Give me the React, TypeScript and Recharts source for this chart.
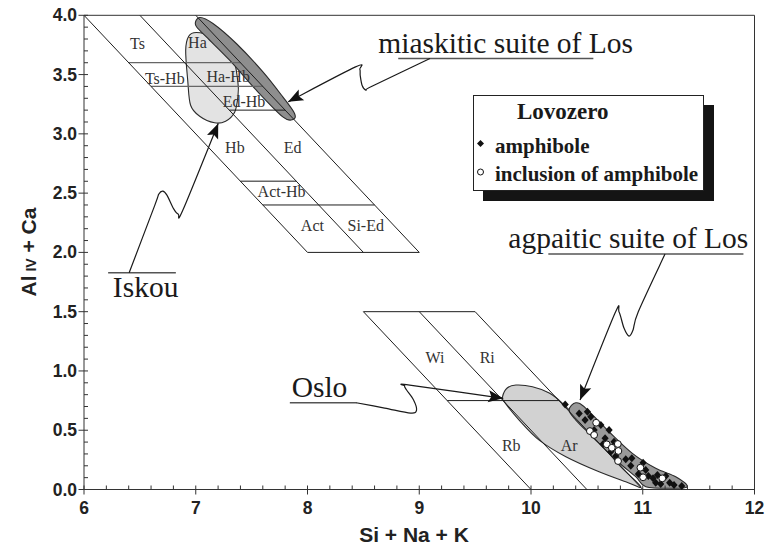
import React from "react";
import { ScatterChart, Scatter, XAxis, YAxis, Label } from "recharts";

type Pt = { x: number; y: number; label?: string };

// axis tick labels
const xMajor = [6, 7, 8, 9, 10, 11, 12];
const yMajor = [0, 0.5, 1, 1.5, 2, 2.5, 3, 3.5, 4];

// field boundaries of the classification diagram (pairs of end points)
const calcicBounds: Pt[] = [
  { x: 6, y: 4 }, { x: 8, y: 2 },
  { x: 6.5, y: 4 }, { x: 8.5, y: 2 },
  { x: 7, y: 4 }, { x: 9, y: 2 },
  { x: 8, y: 2 }, { x: 9, y: 2 },
  { x: 7.3, y: 3.2 }, { x: 7.8, y: 3.2 },
  { x: 7.6, y: 2.4 }, { x: 8.6, y: 2.4 },
];
const calcicGrey: Pt[] = [
  { x: 6.4, y: 3.6 }, { x: 7.4, y: 3.6 },
  { x: 6.6, y: 3.4 }, { x: 7.6, y: 3.4 },
  { x: 7.4, y: 2.6 }, { x: 7.9, y: 2.6 },
];
const sodicBounds: Pt[] = [
  { x: 8.5, y: 1.5 }, { x: 10, y: 0 },
  { x: 9, y: 1.5 }, { x: 10.5, y: 0 },
  { x: 9.5, y: 1.5 }, { x: 11, y: 0 },
  { x: 8.5, y: 1.5 }, { x: 9.5, y: 1.5 },
  { x: 9.25, y: 0.75 }, { x: 10.25, y: 0.75 },
];
const frame: Pt[] = [
  { x: 6, y: 4 }, { x: 12, y: 4 },
  { x: 12, y: 4 }, { x: 12, y: 0 },
];

const zoneLabels: Pt[] = [
  { x: 6.478, y: 3.76, label: "Ts" },
  { x: 7.015, y: 3.77, label: "Ha" },
  { x: 6.723, y: 3.47, label: "Ts-Hb" },
  { x: 7.29, y: 3.48, label: "Ha-Hb" },
  { x: 7.432, y: 3.27, label: "Ed-Hb" },
  { x: 7.35, y: 2.884, label: "Hb" },
  { x: 7.867, y: 2.884, label: "Ed" },
  { x: 7.768, y: 2.515, label: "Act-Hb" },
  { x: 8.044, y: 2.223, label: "Act" },
  { x: 8.521, y: 2.223, label: "Si-Ed" },
  { x: 9.14, y: 1.116, label: "Wi" },
  { x: 9.608, y: 1.116, label: "Ri" },
  { x: 9.823, y: 0.368, label: "Rb" },
  { x: 10.342, y: 0.368, label: "Ar" },
];

// outlined fields
const iskouField: Pt[] = [
  { x: 7.005, y: 3.855 }, { x: 7.124, y: 3.824 }, { x: 7.321, y: 3.664 },
  { x: 7.377, y: 3.438 }, { x: 7.377, y: 3.312 }, { x: 7.348, y: 3.183 },
  { x: 7.267, y: 3.107 }, { x: 7.169, y: 3.093 }, { x: 7.035, y: 3.149 },
  { x: 6.954, y: 3.241 }, { x: 6.928, y: 3.453 }, { x: 6.91, y: 3.706 },
  { x: 6.937, y: 3.824 },
];
const miaskiticField: Pt[] = [
  { x: 7.035, y: 3.981 }, { x: 7.154, y: 3.931 }, { x: 7.363, y: 3.762 },
  { x: 7.601, y: 3.523 }, { x: 7.779, y: 3.312 }, { x: 7.884, y: 3.172 },
  { x: 7.869, y: 3.121 }, { x: 7.779, y: 3.143 }, { x: 7.542, y: 3.368 },
  { x: 7.303, y: 3.621 }, { x: 7.095, y: 3.818 }, { x: 6.999, y: 3.917 },
];
const osloField: Pt[] = [
  { x: 9.745, y: 0.782 }, { x: 9.787, y: 0.856 }, { x: 9.865, y: 0.881 },
  { x: 10.013, y: 0.867 }, { x: 10.163, y: 0.814 }, { x: 10.282, y: 0.727 },
  { x: 10.52, y: 0.5 }, { x: 10.788, y: 0.207 }, { x: 10.982, y: 0.024 },
  { x: 10.848, y: 0.066 }, { x: 10.609, y: 0.15 }, { x: 10.312, y: 0.277 },
  { x: 10.073, y: 0.417 }, { x: 9.894, y: 0.586 }, { x: 9.76, y: 0.74 },
];
const agpaiticField: Pt[] = [
  { x: 10.341, y: 0.67 }, { x: 10.401, y: 0.732 }, { x: 10.491, y: 0.685 },
  { x: 10.699, y: 0.487 }, { x: 10.907, y: 0.305 }, { x: 11.116, y: 0.179 },
  { x: 11.295, y: 0.108 }, { x: 11.399, y: 0.024 }, { x: 11.265, y: 0.01 },
  { x: 11.027, y: 0.024 }, { x: 10.937, y: 0.108 }, { x: 10.759, y: 0.249 },
  { x: 10.55, y: 0.445 }, { x: 10.401, y: 0.586 },
];

// Lovozero analyses
const amphibole: Pt[] = [
  { x: 10.306, y: 0.718 }, { x: 10.431, y: 0.642 }, { x: 10.505, y: 0.656 },
  { x: 10.484, y: 0.586 }, { x: 10.535, y: 0.614 }, { x: 10.625, y: 0.544 },
  { x: 10.699, y: 0.502 }, { x: 10.663, y: 0.432 }, { x: 10.743, y: 0.403 },
  { x: 10.645, y: 0.384 }, { x: 10.714, y: 0.319 }, { x: 10.759, y: 0.282 },
  { x: 10.902, y: 0.263 }, { x: 10.893, y: 0.201 }, { x: 11.003, y: 0.226 },
  { x: 11.027, y: 0.164 }, { x: 10.961, y: 0.131 }, { x: 11.05, y: 0.114 },
  { x: 11.092, y: 0.094 }, { x: 11.131, y: 0.122 }, { x: 11.206, y: 0.114 },
  { x: 11.116, y: 0.057 }, { x: 11.161, y: 0.046 }, { x: 11.241, y: 0.057 },
  { x: 11.28, y: 0.038 }, { x: 11.349, y: 0.03 }, { x: 10.848, y: 0.255 },
  { x: 10.565, y: 0.502 },
];
const inclusion: Pt[] = [
  { x: 10.583, y: 0.563 }, { x: 10.527, y: 0.493 }, { x: 10.565, y: 0.46 },
  { x: 10.678, y: 0.381 }, { x: 10.723, y: 0.352 }, { x: 10.777, y: 0.384 },
  { x: 10.782, y: 0.325 }, { x: 10.779, y: 0.24 }, { x: 10.979, y: 0.184 },
  { x: 11.003, y: 0.103 }, { x: 11.175, y: 0.094 },
];

// annotations
const noteTexts: Pt[] = [
  { x: 8.633, y: 3.678, label: "miaskitic suite of Los" },
  { x: 9.797, y: 2.034, label: "agpaitic suite of Los" },
  { x: 6.258, y: 1.626, label: "Iskou" },
  { x: 7.858, y: 0.782, label: "Oslo" },
];
const underlines: Pt[] = [
  { x: 8.812, y: 3.636 }, { x: 10.558, y: 3.636 },
  { x: 10.155, y: 1.986 }, { x: 11.901, y: 1.986 },
  { x: 6.216, y: 1.828 }, { x: 6.822, y: 1.828 },
  { x: 7.842, y: 0.732 }, { x: 8.44, y: 0.732 },
];
const miaskiticArrow: Pt[] = [
  { x: 9.096, y: 3.636 }, { x: 8.577, y: 3.402 }, { x: 8.523, y: 3.37 },
  { x: 8.49, y: 3.405 }, { x: 8.472, y: 3.49 }, { x: 8.468, y: 3.545 },
  { x: 8.43, y: 3.565 }, { x: 7.827, y: 3.27 },
];
const agpaiticArrow: Pt[] = [
  { x: 11.199, y: 1.986 }, { x: 10.96, y: 1.5 }, { x: 10.913, y: 1.345 },
  { x: 10.877, y: 1.294 }, { x: 10.832, y: 1.362 }, { x: 10.788, y: 1.497 },
  { x: 10.752, y: 1.488 }, { x: 10.439, y: 0.755 },
];
const iskouArrow: Pt[] = [
  { x: 6.404, y: 1.828 }, { x: 6.634, y: 2.399 }, { x: 6.67, y: 2.492 },
  { x: 6.705, y: 2.517 }, { x: 6.742, y: 2.483 }, { x: 6.804, y: 2.365 },
  { x: 6.844, y: 2.323 }, { x: 6.885, y: 2.357 }, { x: 7.201, y: 3.088 },
];
const osloArrow: Pt[] = [
  { x: 8.436, y: 0.732 }, { x: 8.69, y: 0.687 }, { x: 8.922, y: 0.645 },
  { x: 8.976, y: 0.67 }, { x: 8.949, y: 0.755 }, { x: 8.887, y: 0.839 },
  { x: 8.869, y: 0.873 }, { x: 8.914, y: 0.881 }, { x: 9.752, y: 0.769 },
];

const SANS = "'Liberation Sans', Arial, sans-serif";
const SERIF = "'Liberation Serif', 'Times New Roman', serif";

function smoothPath(pts: { x: number; y: number }[], closed: boolean) {
  const n = pts.length;
  const at = (i: number) => (closed ? pts[(i + n) % n] : pts[Math.max(0, Math.min(n - 1, i))]);
  let d = `M${pts[0].x},${pts[0].y}`;
  const segs = closed ? n : n - 1;
  for (let i = 0; i < segs; i++) {
    const p0 = at(i - 1), p1 = at(i), p2 = at(i + 1), p3 = at(i + 2);
    const c1x = p1.x + (p2.x - p0.x) / 6, c1y = p1.y + (p2.y - p0.y) / 6;
    const c2x = p2.x - (p3.x - p1.x) / 6, c2y = p2.y - (p3.y - p1.y) / 6;
    d += ` C${c1x},${c1y} ${c2x},${c2y} ${p2.x},${p2.y}`;
  }
  return closed ? d + "Z" : d;
}

const none = () => <g />;

const segments = (stroke: string, width: number) => (p: any) => {
  const pts = p.points;
  let d = "";
  for (let i = 0; i + 1 < pts.length; i += 2) d += `M${pts[i].x},${pts[i].y}L${pts[i + 1].x},${pts[i + 1].y}`;
  return <path d={d} stroke={stroke} strokeWidth={width} fill="none" />;
};

const field = (fill: string) => (p: any) => (
  <path d={smoothPath(p.points, true)} fill={fill} stroke="#2b2b2b" strokeWidth={1.1} />
);

const arrow = (p: any) => {
  const pts = p.points;
  const n = pts.length;
  const tip = pts[n - 1], prev = pts[n - 2];
  const dx = tip.x - prev.x, dy = tip.y - prev.y;
  const len = Math.hypot(dx, dy) || 1;
  const ux = dx / len, uy = dy / len;
  const L = 15, W = 6;
  const bx = tip.x - ux * L, by = tip.y - uy * L;
  const head = `M${tip.x},${tip.y}L${bx - uy * W},${by + ux * W}L${tip.x - ux * L * 0.8},${tip.y - uy * L * 0.8}L${bx + uy * W},${by - ux * W}Z`;
  return (
    <g>
      <path d={smoothPath(pts, false)} fill="none" stroke="#1a1a1a" strokeWidth={1.2} />
      <path d={head} fill="#111" />
    </g>
  );
};

const diamond = (p: any) => (
  <path d={`M${p.cx},${p.cy - 4}L${p.cx + 3.6},${p.cy}L${p.cx},${p.cy + 4}L${p.cx - 3.6},${p.cy}Z`} fill="#111" />
);
const ring = (p: any) => <circle cx={p.cx} cy={p.cy} r={3.4} fill="#fff" stroke="#111" strokeWidth={1} />;

const zoneText = (p: any) => (
  <text x={p.cx} y={p.cy} textAnchor="middle" dominantBaseline="central" fontFamily={SERIF} fontSize={16} fill="#333">
    {p.payload?.label ?? p.label}
  </text>
);
const noteText = (p: any) => (
  <text x={p.cx} y={p.cy} textAnchor="start" fontFamily={SERIF} fontSize={29.5} fill="#1a1a1a">
    {p.payload?.label ?? p.label}
  </text>
);

const near = (a: number, b: number) => Math.abs(a - b) < 1e-6;

const XTick = (props: any) => {
  const { x, y, payload } = props;
  const v = payload.value;
  const major = xMajor.some((m) => near(m, v));
  return (
    <g>
      <line x1={x} x2={x} y1={major ? y + 5 : y} y2={y - 4} stroke="#333" strokeWidth={1} />
      {major && (
        <text x={x} y={y + 24} textAnchor="middle" fontFamily={SANS} fontWeight="bold" fontSize={17.5} fill="#222">
          {v}
        </text>
      )}
    </g>
  );
};

const YTick = (props: any) => {
  const { x, y, payload } = props;
  const v = payload.value;
  const major = yMajor.some((m) => near(m, v));
  return (
    <g>
      <line x1={major ? x - 5.5 : x} x2={x + 4} y1={y} y2={y} stroke="#333" strokeWidth={1} />
      {major && (
        <text x={x - 7} y={y} textAnchor="end" dominantBaseline="central" fontFamily={SANS} fontWeight="bold" fontSize={17.5} fill="#222">
          {v.toFixed(1)}
        </text>
      )}
    </g>
  );
};

const xTicks: number[] = [];
for (let i = 0; i < xMajor.length - 1; i++) for (let k = 0; k < 5; k++) xTicks.push(+(xMajor[i] + k * 0.2).toFixed(1));
xTicks.push(xMajor[xMajor.length - 1]);
const yTicks: number[] = [];
for (let i = 0; i < yMajor.length - 1; i++) for (let k = 0; k < 5; k++) yTicks.push(+(yMajor[i] + k * 0.1).toFixed(1));
yTicks.push(yMajor[yMajor.length - 1]);

export default function App() {
  return (
    <div style={{ position: "absolute", left: 0, top: 0, width: 770, height: 545, background: "#fff" }}>
      <ScatterChart width={770} height={545} margin={{ top: 15.3, right: 15.5, bottom: 0, left: 0 }}>
        <XAxis
          type="number"
          dataKey="x"
          domain={[6, 12]}
          ticks={xTicks}
          interval={0}
          height={55.5}
          tickSize={0}
          tickMargin={0}
          tickLine={false}
          axisLine={{ stroke: "#333" }}
          tick={<XTick />}
        >
          <Label
            content={() => (
              <text x={414} y={541.5} textAnchor="middle" fontFamily={SANS} fontWeight="bold" fontSize={21} fill="#222">
                Si + Na + K
              </text>
            )}
          />
        </XAxis>
        <YAxis
          type="number"
          dataKey="y"
          domain={[0, 4]}
          ticks={yTicks}
          interval={0}
          width={84}
          tickSize={0}
          tickMargin={0}
          tickLine={false}
          axisLine={{ stroke: "#333" }}
          tick={<YTick />}
        >
          <Label
            content={() => (
              <text transform="translate(36,252) rotate(-90)" textAnchor="middle" fontFamily={SANS} fontWeight="bold" fontSize={21} fill="#222">
                Al<tspan fontSize={14}> IV</tspan> + Ca
              </text>
            )}
          />
        </YAxis>

        <Scatter data={iskouField} shape={none} line={field("#e3e3e3")} lineType="joint" isAnimationActive={false} />
        <Scatter data={miaskiticField} shape={none} line={field("#8e8e8e")} lineType="joint" isAnimationActive={false} />
        <Scatter data={osloField} shape={none} line={field("#d2d2d2")} lineType="joint" isAnimationActive={false} />
        <Scatter data={agpaiticField} shape={none} line={field("#9a9a9a")} lineType="joint" isAnimationActive={false} />

        <Scatter data={calcicGrey} shape={none} line={segments("#666", 1.3)} lineType="joint" isAnimationActive={false} />
        <Scatter data={calcicBounds} shape={none} line={segments("#1e1e1e", 1)} lineType="joint" isAnimationActive={false} />
        <Scatter data={sodicBounds} shape={none} line={segments("#1e1e1e", 1)} lineType="joint" isAnimationActive={false} />
        <Scatter data={frame} shape={none} line={segments("#333", 1)} lineType="joint" isAnimationActive={false} />
        <Scatter data={underlines} shape={none} line={segments("#555", 1.4)} lineType="joint" isAnimationActive={false} />

        <Scatter data={miaskiticArrow} shape={none} line={arrow} lineType="joint" isAnimationActive={false} />
        <Scatter data={agpaiticArrow} shape={none} line={arrow} lineType="joint" isAnimationActive={false} />
        <Scatter data={iskouArrow} shape={none} line={arrow} lineType="joint" isAnimationActive={false} />
        <Scatter data={osloArrow} shape={none} line={arrow} lineType="joint" isAnimationActive={false} />

        <Scatter data={amphibole} shape={diamond} isAnimationActive={false} />
        <Scatter data={inclusion} shape={ring} isAnimationActive={false} />

        <Scatter data={zoneLabels} shape={zoneText} isAnimationActive={false} />
        <Scatter data={noteTexts} shape={noteText} isAnimationActive={false} />
      </ScatterChart>

      <div
        style={{
          position: "absolute",
          left: 473,
          top: 95,
          width: 229,
          height: 94,
          border: "1.5px solid #222",
          background: "#fff",
          boxShadow: "10px 10px 0 #141414",
          fontFamily: SERIF,
          fontWeight: "bold",
          color: "#1a1a1a",
        }}
      >
        <div style={{ position: "absolute", left: 43, top: 3, fontSize: 23, lineHeight: "26px" }}>Lovozero</div>
        <svg style={{ position: "absolute", left: 0, top: 0 }} width={229} height={94}>
          <path d="M6.5,44L10,47.5L6.5,51L3,47.5Z" fill="#111" />
          <circle cx={6.5} cy={76} r={3} fill="#fff" stroke="#111" strokeWidth={1} />
        </svg>
        <div style={{ position: "absolute", left: 21, top: 38, fontSize: 21, lineHeight: "24px", whiteSpace: "nowrap" }}>amphibole</div>
        <div style={{ position: "absolute", left: 21, top: 66, fontSize: 21, lineHeight: "24px", whiteSpace: "nowrap" }}>
          inclusion of amphibole
        </div>
      </div>
    </div>
  );
}
